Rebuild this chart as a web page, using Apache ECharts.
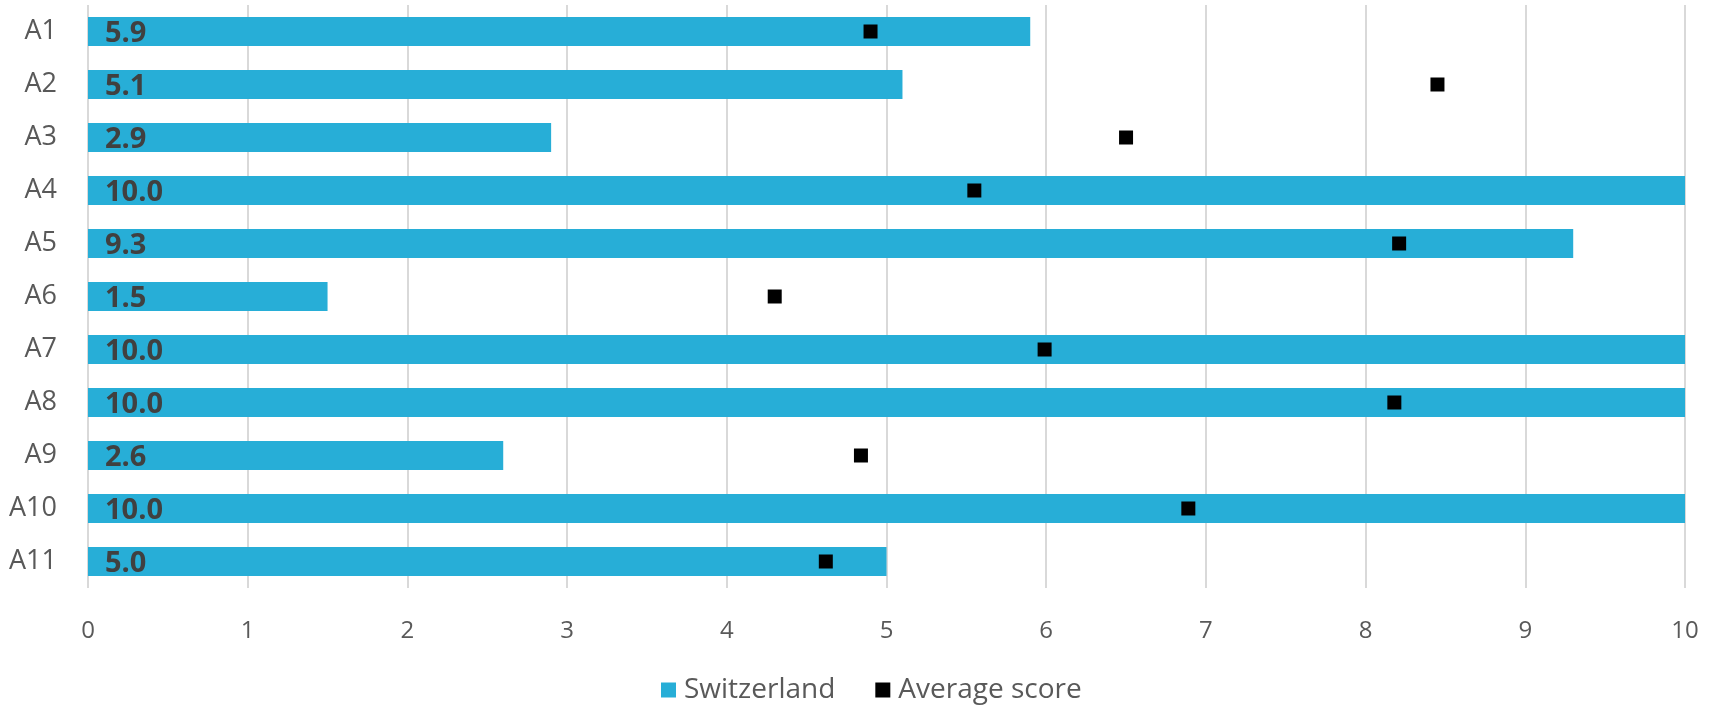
<!DOCTYPE html>
<html>
<head>
<meta charset="utf-8">
<script src="https://cdn.jsdelivr.net/npm/echarts@6/dist/echarts.min.js"></script>
<style>
html,body{margin:0;padding:0;background:#fff;}
#c{width:1719px;height:707px;}
</style>
</head>
<body>
<div id="c"></div>
<script>
var categories = ['A1','A2','A3','A4','A5','A6','A7','A8','A9','A10','A11'];
var switzerland = [5.9, 5.1, 2.9, 10.0, 9.3, 1.5, 10.0, 10.0, 2.6, 10.0, 5.0];
var averageScore = [4.90, 8.45, 6.50, 5.55, 8.21, 4.30, 5.99, 8.18, 4.84, 6.89, 4.62];
var xTicks = [0,1,2,3,4,5,6,7,8,9,10];

var FONT = '"Open Sans", "Noto Sans", sans-serif';
var chart = echarts.init(document.getElementById('c'), null, {renderer:'canvas'});
chart.setOption({
  animation: false,
  backgroundColor: '#ffffff',
  grid: {left: 88, right: 34, top: 5, bottom: 119, containLabel: false},
  legend: {
    top: 671,
    left: 656,
    itemGap: 40,
    itemWidth: 15,
    itemHeight: 15,
    textStyle: {fontFamily: FONT, fontSize: 28, color: '#595959', padding: [0, 0, 0, 3]},
    data: [
      {name: 'Switzerland', icon: 'rect'},
      {name: 'Average score', icon: 'rect'}
    ]
  },
  xAxis: {
    type: 'value',
    min: 0, max: 10, interval: 1,
    axisLine: {show: false},
    axisTick: {show: false},
    splitLine: {show: true, lineStyle: {color: '#d9d9d9', width: 2}},
    axisLabel: {
      fontFamily: FONT, fontSize: 24, color: '#595959', margin: 31,
      formatter: function(v){ return xTicks.indexOf(v) >= 0 ? String(v) : ''; }
    }
  },
  yAxis: {
    type: 'category',
    data: categories,
    inverse: true,
    axisLine: {show: false},
    axisTick: {show: false},
    splitLine: {show: false},
    axisLabel: {fontFamily: FONT, fontSize: 27, color: '#595959', margin: 31, padding: [3, 0, 0, 0]}
  },
  series: [
    {
      name: 'Switzerland',
      type: 'bar',
      data: switzerland,
      barWidth: '55%',
      itemStyle: {color: '#27AED7'},
      label: {
        show: true,
        position: 'insideLeft',
        distance: 17,
        offset: [0, 2],
        fontFamily: FONT,
        fontSize: 29,
        fontWeight: 'bold',
        color: '#404040',
        formatter: function(p){ return p.value.toFixed(1); }
      },
      z: 2
    },
    {
      name: 'Average score',
      type: 'scatter',
      data: averageScore,
      symbol: 'rect',
      symbolSize: 14,
      itemStyle: {color: '#000000', opacity: 1},
      z: 3
    }
  ]
});
</script>
</body>
</html>
